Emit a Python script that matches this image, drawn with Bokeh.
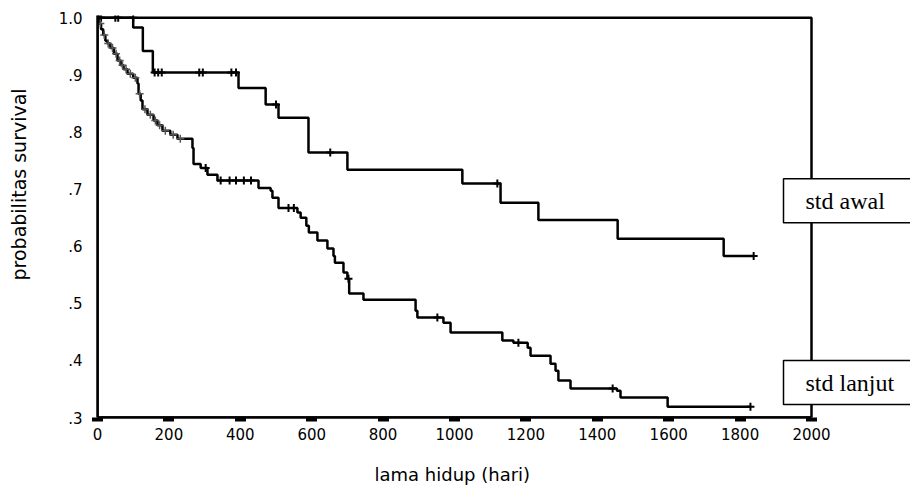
from bokeh.plotting import figure
from bokeh.models import Range1d, FixedTicker, Label, Title
from bokeh.embed import file_html
from bokeh.resources import INLINE

# ---- data ----
x_ticks = [0, 200, 400, 600, 800, 1000, 1200, 1400, 1600, 1800, 2000]
y_ticks = [0.3, 0.4, 0.5, 0.6, 0.7, 0.8, 0.9, 1.0]
y_tick_labels = [".3", ".4", ".5", ".6", ".7", ".8", ".9", "1.0"]

# std awal (early stage) Kaplan-Meier steps
awal_time = [0, 100, 127, 155, 395, 471, 507, 591, 700, 1022, 1129, 1235, 1457, 1754, 1838]
awal_surv = [1.0, 0.983, 0.942, 0.904, 0.877, 0.848, 0.825, 0.764, 0.734, 0.710, 0.676, 0.646, 0.613, 0.583, 0.583]
awal_cens_time = [0, 5, 10, 50, 58, 100, 160, 170, 180, 285, 295, 375, 388, 500, 652, 1120, 1838]
awal_cens_surv = [1.0, 1.0, 1.0, 1.0, 1.0, 1.0, 0.904, 0.904, 0.904, 0.904, 0.904, 0.904, 0.904, 0.848, 0.764, 0.710, 0.583]

# std lanjut (advanced stage) Kaplan-Meier steps
lanjut_time = [0, 5, 10, 16, 22, 28, 36, 46, 56, 65, 73, 84, 100, 112, 115, 121, 126, 140,
               157, 168, 182, 204, 224, 266, 269, 289, 308, 336, 451, 485, 490, 507, 560,
               569, 585, 592, 616, 644, 661, 665, 689, 700, 705, 745, 891, 896, 969, 989,
               1134, 1165, 1205, 1213, 1269, 1283, 1291, 1325, 1455, 1465, 1597, 1829]
lanjut_surv = [1.0, 0.99, 0.98, 0.97, 0.96, 0.955, 0.947, 0.937, 0.925, 0.917, 0.910, 0.902,
               0.895, 0.885, 0.867, 0.855, 0.840, 0.830, 0.820, 0.812, 0.802, 0.795, 0.788,
               0.772, 0.744, 0.737, 0.725, 0.715, 0.702, 0.697, 0.685, 0.667, 0.659, 0.650,
               0.636, 0.624, 0.610, 0.596, 0.583, 0.571, 0.554, 0.543, 0.517, 0.506, 0.487,
               0.475, 0.466, 0.449, 0.435, 0.431, 0.422, 0.408, 0.394, 0.382, 0.365, 0.351,
               0.347, 0.335, 0.319, 0.319]
lanjut_cens_early_time = [8, 19, 30, 42, 52, 62, 70, 80, 92, 106, 118, 133, 148, 162, 174, 190, 212, 232]
lanjut_cens_early_surv = [0.99, 0.97, 0.955, 0.947, 0.937, 0.925, 0.917, 0.910, 0.902, 0.895, 0.867,
                          0.840, 0.830, 0.820, 0.812, 0.802, 0.795, 0.788]
lanjut_cens_time = [303, 345, 370, 388, 410, 430, 535, 550, 703, 952, 1179, 1443, 1829]
lanjut_cens_surv = [0.737, 0.715, 0.715, 0.715, 0.715, 0.715, 0.667, 0.667, 0.543, 0.475, 0.431, 0.351, 0.319]

group_labels = ["std awal", "std lanjut"]
x_title = "lama hidup (hari)"
y_title = "probabilitas survival"

# ---- layout geometry (pixels) ----
W, H = 910, 489
frame_left, frame_right_axis, frame_top, frame_bottom = 97, 811, 15, 417
px_per_day = (frame_right_axis - frame_left) / (x_ticks[-1] - x_ticks[0])
x_end = x_ticks[0] + (W - frame_left) / px_per_day        # frame runs to the canvas edge
y_top = y_ticks[-1] + 0.004                                # room for the thick top border

p = figure(width=W, height=H,
           x_range=Range1d(x_ticks[0], x_end), y_range=Range1d(y_ticks[0], y_top),
           output_backend="svg", toolbar_location=None,
           min_border_left=frame_left, min_border_right=0,
           min_border_top=frame_top, min_border_bottom=H - frame_bottom)
p.grid.visible = False
p.outline_line_color = None
p.background_fill_color = "white"
p.border_fill_color = "white"

ax = p.xaxis[0]
ax.ticker = FixedTicker(ticks=x_ticks)
ax.bounds = (x_ticks[0], x_ticks[-1])
ax.major_label_text_font = "DejaVu Sans"
ax.major_label_text_font_size = "15px"
ax.major_label_text_color = "black"
ax.major_label_standoff = 6
ax.major_tick_in = 0
ax.major_tick_out = 4
ax.major_tick_line_width = 11
ax.major_tick_line_color = "black"
ax.minor_tick_line_color = None
ax.axis_line_width = 2.5
ax.axis_line_color = "black"

ay = p.yaxis[0]
ay.ticker = FixedTicker(ticks=y_ticks)
ay.major_label_overrides = {t: lab for t, lab in zip(y_ticks, y_tick_labels)}
ay.major_label_text_font = "DejaVu Sans"
ay.major_label_text_font_size = "15px"
ay.major_label_text_color = "black"
ay.major_label_standoff = 15
ay.major_tick_in = 0
ay.major_tick_out = 0
ay.minor_tick_line_color = None
ay.axis_line_width = 2.5
ay.axis_line_color = "black"

# plot box (top and right edges of the chart area)
p.quad(left=x_ticks[0], right=x_ticks[-1], bottom=y_ticks[0], top=y_ticks[-1],
       fill_color=None, line_color="black", line_width=2.5)

# curves
p.step(awal_time, awal_surv, mode="after", line_color="black", line_width=2.5)
p.step(lanjut_time, lanjut_surv, mode="after", line_color="black", line_width=2.5)

# censor marks
p.scatter(awal_cens_time, awal_cens_surv, marker="cross", size=8, line_width=2, color="black")
p.scatter(lanjut_cens_early_time, lanjut_cens_early_surv, marker="cross", size=8, line_width=1.5, color="#555555")
p.scatter(lanjut_cens_time, lanjut_cens_surv, marker="cross", size=8, line_width=2, color="black")

# axis titles (titles on the side panels so they can be offset like the reference);
# blank titles act as spacers between the axes and the titles
p.add_layout(Title(text=" ", text_font_size="8px"), "left")
p.add_layout(Title(text=y_title, align="left", offset=137,
                   text_font="DejaVu Sans", text_font_size="19px",
                   text_font_style="normal", text_color="black"), "left")
p.add_layout(Title(text=" ", text_font_size="2px"), "below")
p.add_layout(Title(text=x_title, align="left", offset=277,
                   text_font="DejaVu Sans", text_font_size="18px",
                   text_font_style="normal", text_color="black"), "below")

# group boxes
box_left_day = (783 - frame_left) / px_per_day
for lab, ytop in zip(group_labels, [0.7182, 0.3997]):
    p.add_layout(Label(x=box_left_day, y=ytop, text=lab, anchor="top_left",
                       text_font="Liberation Serif", text_font_size="24px", text_color="black",
                       border_line_color="black", border_line_width=1.5,
                       background_fill_color="white",
                       padding=dict(left=22, right=60, top=9, bottom=9)))

open("out.html", "w").write(file_html(p, INLINE))
